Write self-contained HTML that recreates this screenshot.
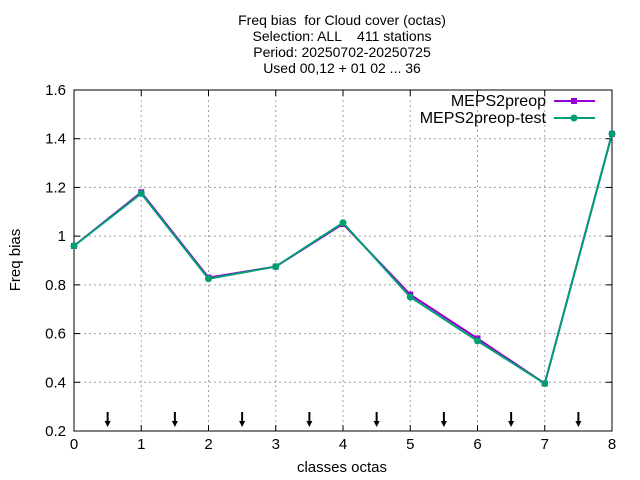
<!DOCTYPE html>
<html><head><meta charset="utf-8"><style>
body{margin:0;background:#fff;}
svg{display:block;font-family:"Liberation Sans",sans-serif;}
.pre{white-space:pre;}
</style></head><body>
<svg id="chart" width="640" height="480">
<g font-size="14" text-anchor="middle" fill="#000">
<text class="pre" x="342" y="25">Freq bias  for Cloud cover (octas)</text>
<text class="pre" x="342" y="41">Selection: ALL    411 stations</text>
<text class="pre" x="342" y="57">Period: 20250702-20250725</text>
<text class="pre" x="342" y="73">Used 00,12 + 01 02 ... 36</text>
</g>
<g id="grid"></g>
<g id="axes"></g>
<text x="20" y="260" font-size="15" text-anchor="middle" transform="rotate(-90 20 260)">Freq bias</text>
<text x="342" y="472" font-size="15" text-anchor="middle">classes octas</text>
<g id="series"></g>
<g font-size="16" text-anchor="end">
<g>
<text x="546" y="106">MEPS2preop</text>
<line x1="554" y1="101" x2="595" y2="101" stroke="#9400d3" stroke-width="2"/>
<rect x="571" y="98" width="6" height="6" fill="#9400d3"/>
</g>
<g>
<text x="546" y="123">MEPS2preop-test</text>
<line x1="554" y1="118" x2="595" y2="118" stroke="#009e73" stroke-width="2"/>
<circle cx="574" cy="118" r="3.5" fill="#009e73"/>
</g>
</g>
</svg>
<script>
const categories=[0,1,2,3,4,5,6,7,8];
const seriesA=[0.96,1.18,0.83,0.875,1.05,0.76,0.58,0.395,1.42];
const seriesB=[0.96,1.175,0.825,0.875,1.055,0.75,0.57,0.395,1.42];
const yTicks=[0.2,0.4,0.6,0.8,1,1.2,1.4,1.6];
const xTicks=[0,1,2,3,4,5,6,7,8];
const arrowPos=[0.5,1.5,2.5,3.5,4.5,5.5,6.5,7.5];
const L=74,R=612,T=90,B=431;
const xs=v=>L+(v-0)/8*(R-L);
const ys=v=>B-(v-0.2)/1.4*(B-T);
const NS="http://www.w3.org/2000/svg";
function mk(p,tag,a){const e=document.createElementNS(NS,tag);for(const k in a)e.setAttribute(k,a[k]);p.appendChild(e);return e;}
const grid=document.getElementById('grid'),axes=document.getElementById('axes'),ser=document.getElementById('series');
yTicks.forEach(t=>{const y=ys(t);
 if(t>0.2&&t<1.6){const g=mk(grid,'line',{x1:L,x2:R,y1:y,y2:y,stroke:'#a0a0a0','stroke-dasharray':'2,3'});
 
 }
 mk(axes,'line',{x1:L,x2:L+6,y1:y,y2:y,stroke:'#000'});mk(axes,'line',{x1:R,x2:R-6,y1:y,y2:y,stroke:'#000'});
 const tx=mk(axes,'text',{x:L-8,y:y+5,'font-size':15,'text-anchor':'end'});tx.textContent=String(t);
 
 
});
xTicks.forEach(t=>{const x=xs(t);
 if(t>0&&t<8){const g=mk(grid,'line',{x1:x,x2:x,y1:T,y2:B,stroke:'#a0a0a0','stroke-dasharray':'2,3'});
 
 }
 mk(axes,'line',{x1:x,x2:x,y1:B,y2:B-6,stroke:'#000'});mk(axes,'line',{x1:x,x2:x,y1:T,y2:T+6,stroke:'#000'});
 const tx=mk(axes,'text',{x:x,y:B+18,'font-size':15,'text-anchor':'middle'});tx.textContent=String(t);
 
 
});
mk(axes,'rect',{x:L,y:T,width:R-L,height:B-T,fill:'none',stroke:'#000'});
arrowPos.forEach(p=>{const x=xs(p);const g=mk(axes,'g',{});
 
 
 mk(g,'line',{x1:x,x2:x,y1:412,y2:423,stroke:'#000','stroke-width':2});
 mk(g,'path',{d:`M${x-3} 421 L${x+3} 421 L${x} 427 Z`,fill:'#000'});
});
function drawSeries(vals,color,name,shape){
 const g=mk(ser,'g',{});
 
 
 mk(g,'polyline',{points:vals.map((v,i)=>xs(categories[i])+','+ys(v)).join(' '),fill:'none',stroke:color,'stroke-width':2});
 vals.forEach((v,i)=>{const x=xs(categories[i]),y=ys(v);let m;
  if(shape==='sq')m=mk(g,'rect',{x:x-3,y:y-3,width:6,height:6,fill:color});
  else m=mk(g,'circle',{cx:x,cy:y,r:3.5,fill:color});
  
  
 });
}
drawSeries(seriesA,'#9400d3','series-meps2preop','sq');
drawSeries(seriesB,'#009e73','series-meps2preop-test','ci');
</script>
</body></html>
